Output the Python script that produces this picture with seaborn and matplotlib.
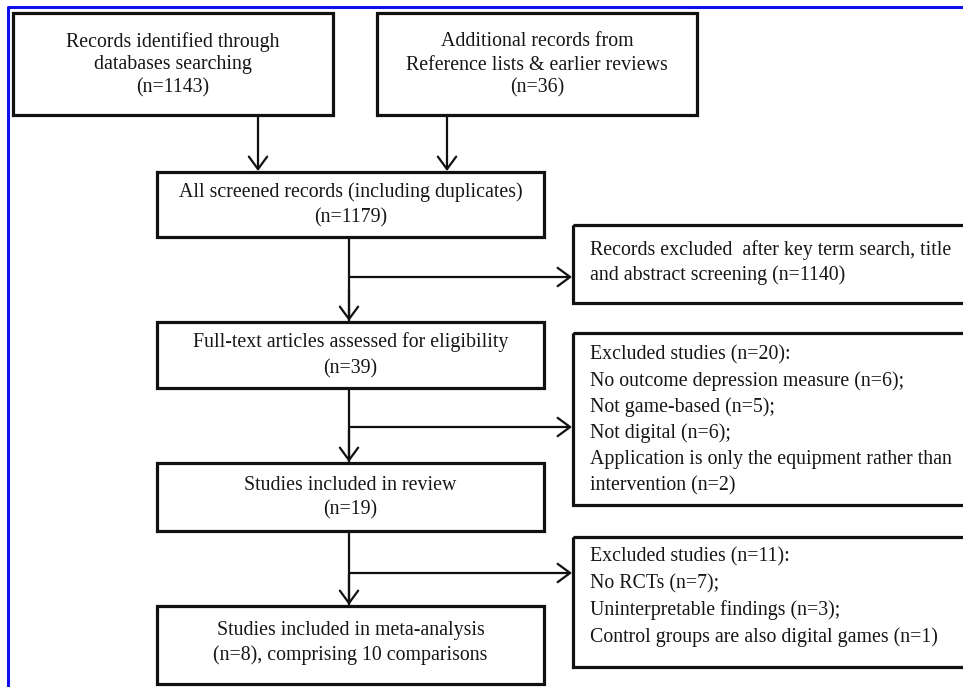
import matplotlib
matplotlib.use("Agg")
import matplotlib.pyplot as plt
from matplotlib.patches import Rectangle
import seaborn as sns
import pandas as pd

# ---------------- data ----------------
identified_n = 1143
additional_n = 36
screened_n = 1179
excluded_screen_n = 1140
fulltext_n = 39
excluded_full_n = 20
review_n = 19
excluded_meta_n = 11
meta_n = 8
meta_comparisons = 10

full_reason_labels = ["No outcome depression measure", "Not game-based", "Not digital",
                      "Application is only the equipment rather than\nintervention"]
full_reason_counts = [6, 5, 6, 2]
meta_reason_labels = ["No RCTs", "Uninterpretable findings", "Control groups are also digital games"]
meta_reason_counts = [7, 3, 1]

# ---------------- build texts ----------------
def reasons_text(header, labels, counts):
    lines = [header]
    for i, (l, c) in enumerate(zip(labels, counts)):
        end = ";" if i < len(labels) - 1 else ""
        lines.extend((f"{l} (n={c}){end}").split("\n"))
    return lines

main_boxes = [
    # (x0, y0, x1, y1, lines, line y positions)
    (13, 13, 333, 115, ["Records identified through", "databases searching", f"(n={identified_n})"], [42, 65, 88]),
    (377, 13, 697, 115, ["Additional records from", "Reference lists & earlier reviews", f"(n={additional_n})"], [42, 65, 88]),
    (157, 172, 544, 237, ["All screened records (including duplicates)", f"(n={screened_n})"], [192, 218]),
    (157, 322, 544, 388, ["Full-text articles assessed for eligibility", f"(n={fulltext_n})"], [342, 369]),
    (157, 463, 544, 531, ["Studies included in review", f"(n={review_n})"], [485, 510]),
    (157, 606, 544, 684, ["Studies included in meta-analysis",
                          f"(n={meta_n}), comprising {meta_comparisons} comparisons"], [631, 655]),
]

side_boxes = [
    (573, 225, 990, 303, ["Records excluded  after key term search, title",
                          f"and abstract screening (n={excluded_screen_n})"], 250, 25.5),
    (573, 333, 990, 505, reasons_text(f"Excluded studies (n={excluded_full_n}):",
                                      full_reason_labels, full_reason_counts), 355, 26.2),
    (573, 537, 990, 667, reasons_text(f"Excluded studies (n={excluded_meta_n}):",
                                      meta_reason_labels, meta_reason_counts), 557, 26.6),
]

# ---------------- figure ----------------
sns.set_theme(style="white")
plt.rcParams['font.family'] = ['Liberation Serif', 'DejaVu Serif']

fig = plt.figure(figsize=(9.63, 6.87), dpi=100)
ax = fig.add_axes([0, 0, 1, 1])
ax.set_xlim(0, 963)
ax.set_ylim(687, 0)
ax.axis("off")

TXT = "#161616"
FS = 14.3

# outer blue frame (partially visible)
frame = pd.DataFrame({"x": [8, 8, 963], "y": [687, 7, 7]})
sns.lineplot(data=frame, x="x", y="y", sort=False, estimator=None, color="#1010ee", lw=2.2, ax=ax)

for x0, y0, x1, y1, lines, ys in main_boxes:
    ax.add_patch(Rectangle((x0, y0), x1 - x0, y1 - y0, fill=False, ec="#111111", lw=2.3, zorder=3))
    cx = (x0 + x1) / 2
    for t, yy in zip(lines, ys):
        ax.text(cx, yy, t, ha="center", va="center", fontsize=FS, color=TXT)

for x0, y0, x1, y1, lines, ystart, dy in side_boxes:
    ax.add_patch(Rectangle((x0, y0), x1 - x0, y1 - y0, fill=False, ec="#111111", lw=2.3, zorder=3,
                           clip_on=False))
    for i, t in enumerate(lines):
        ax.text(590, ystart + i * dy, t, ha="left", va="center", fontsize=FS, color=TXT)

# connectors (trunk lines drawn with seaborn)
trunk_x = 349
trunks = pd.DataFrame({
    "seg": ["a", "a", "b", "b", "c", "c"],
    "x": [trunk_x] * 6,
    "y": [237, 322, 388, 463, 531, 606],
})
sns.lineplot(data=trunks, x="x", y="y", units="seg", estimator=None, sort=False,
             color="#111111", lw=1.6, ax=ax)

arrow_kw = dict(arrowstyle="->,head_length=0.75,head_width=0.55", color="#111111", lw=1.6,
                shrinkA=0, shrinkB=0, mutation_scale=12)

def arrow(x0, y0, x1, y1):
    ax.annotate("", xy=(x1, y1), xytext=(x0, y0), arrowprops=arrow_kw, zorder=4)

arrow(258, 115, 258, 171)
arrow(447, 115, 447, 171)
arrow(trunk_x, 290, trunk_x, 321)
arrow(trunk_x, 430, trunk_x, 462)
arrow(trunk_x, 575, trunk_x, 605)
arrow(trunk_x, 277, 572, 277)
arrow(trunk_x, 427, 572, 427)
arrow(trunk_x, 573, 572, 573)

fig.savefig("out.png", dpi=100)
